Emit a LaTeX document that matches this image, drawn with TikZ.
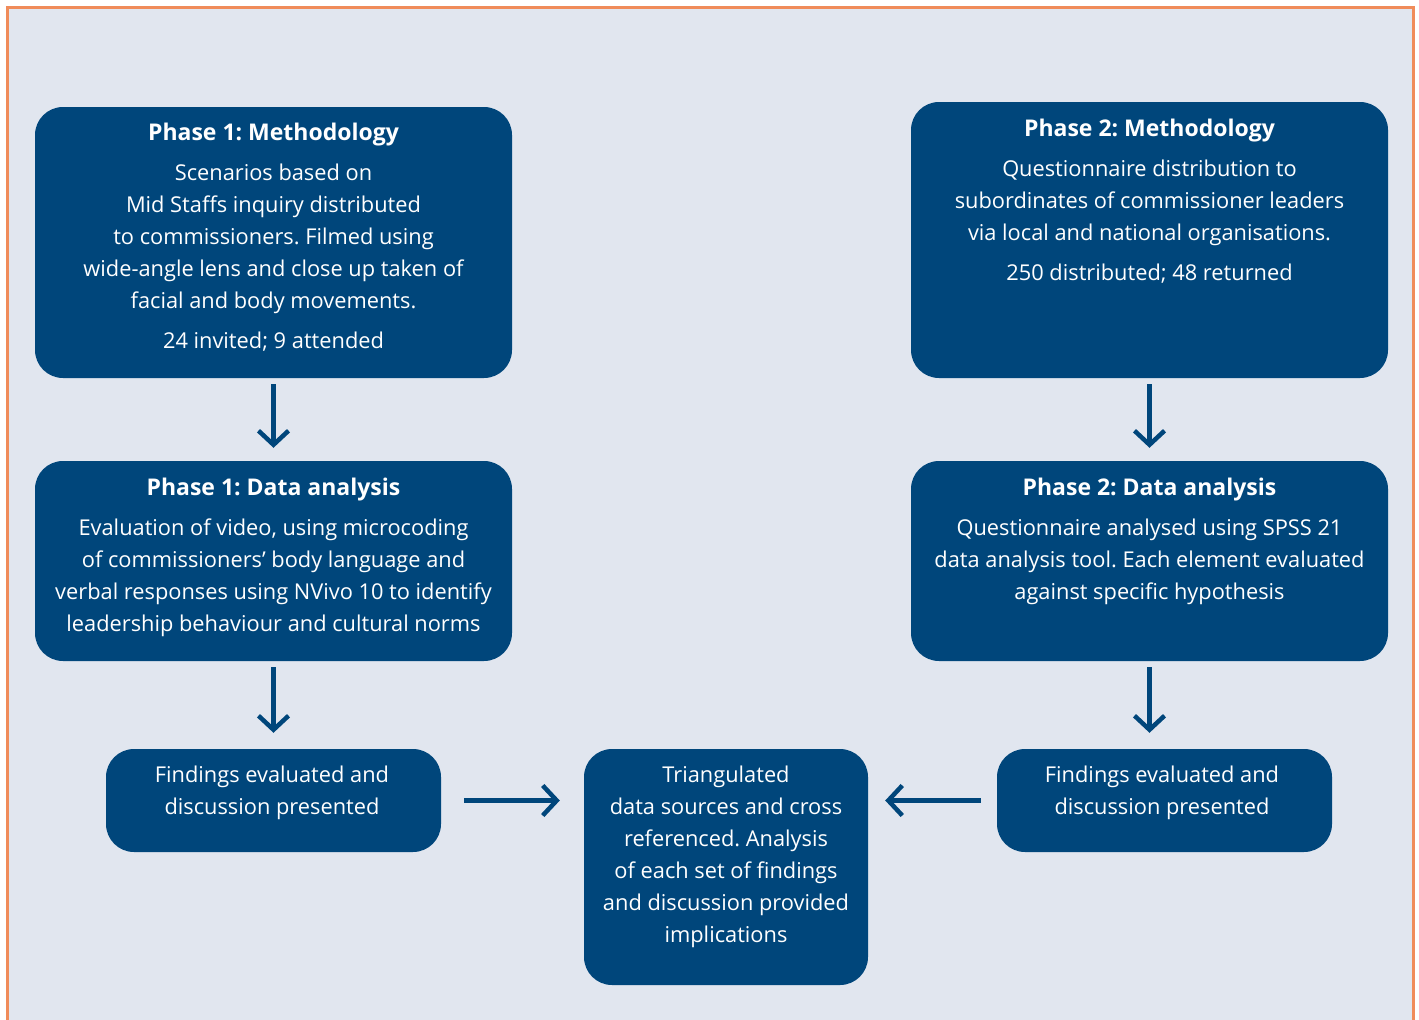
\documentclass[tikz,border=0pt]{standalone}
\usepackage{fontspec}
\setmainfont{Open Sans}
\usetikzlibrary{arrows.meta}
\definecolor{bgfill}{HTML}{E1E6EF}
\definecolor{boxblue}{HTML}{00467B}
\definecolor{edgeorange}{HTML}{F08C5A}
\frenchspacing
\newcommand{\ttl}[1]{{\fontsize{23}{32}\selectfont\bfseries #1}}
\tikzset{
  box/.style={fill=boxblue, rounded corners=28pt, inner sep=0pt},
  txt/.style={text=white, align=center, font=\fontsize{21.8}{32}\selectfont, anchor=north, inner sep=0pt},
  flow/.style={draw=boxblue, line width=4.5pt, -{Straight Barb[length=14pt,width=30pt]}}
}
\begin{document}
\begin{tikzpicture}[x=1pt,y=-1pt]
\useasboundingbox (0,0) rectangle (1419,1020);
\fill[bgfill] (8,8) rectangle (1413,1020);
\draw[draw=edgeorange, line width=2.2pt] (7.5,1021) -- (7.5,7.5) -- (1413.5,7.5) -- (1413.5,1021);
% boxes
\path[box] (35,107) rectangle (512,378);
\node (p1m) at (273.5,242.5) [minimum width=477pt, minimum height=271pt] {};
\path[box] (911,102) rectangle (1388,378);
\node (p2m) at (1149.5,240) [minimum width=477pt, minimum height=276pt] {};
\path[box] (35,461) rectangle (512,661);
\node (p1d) at (273.5,561) [minimum width=477pt, minimum height=200pt] {};
\path[box] (911,461) rectangle (1388,661);
\node (p2d) at (1149.5,561) [minimum width=477pt, minimum height=200pt] {};
\path[box] (106,749) rectangle (441,852);
\node (f1) at (273.5,800.5) [minimum width=335pt, minimum height=103pt] {};
\path[box] (997,749) rectangle (1332,852);
\node (f2) at (1164.5,800.5) [minimum width=335pt, minimum height=103pt] {};
\path[box] (584,749) rectangle (868,985);
\node (tri) at (726,867) [minimum width=284pt, minimum height=236pt] {};
% texts
\node[txt] (t1) at (273.5,123) {\ttl{Phase 1: Methodology}\\[8pt]
Scenarios based on\\ Mid Staffs inquiry distributed\\ to commissioners. Filmed using\\
wide-angle lens and close up taken of\\ facial and body movements.\\[8pt] 24 invited; 9 attended};
\node[txt] (t2) at (1149.5,119) {\ttl{Phase 2: Methodology}\\[8pt]
Questionnaire distribution to\\ subordinates of commissioner leaders\\ via local and national organisations.\\[8pt]
250 distributed; 48 returned};
\node[txt] (t3) at (273.5,478) {\ttl{Phase 1: Data analysis}\\[8pt]
Evaluation of video, using microcoding\\ of commissioners’ body language and\\
verbal responses using NVivo 10 to identify\\ leadership behaviour and cultural norms};
\node[txt] (t4) at (1149.5,478) {\ttl{Phase 2: Data analysis}\\[8pt]
Questionnaire analysed using SPSS 21\\ data analysis tool. Each element evaluated\\ against specific hypothesis};
\node[txt] (t5) at (272,766) {Findings evaluated and\\ discussion presented};
\node[txt] (t6) at (1162,766) {Findings evaluated and\\ discussion presented};
\node[txt] (t7) at (726,766) {Triangulated\\ data sources and cross\\ referenced. Analysis\\ of each set of findings\\ and discussion provided\\ implications};
% arrows
\draw[flow] ([yshift=-6pt]p1m.south) -- ([yshift=13pt]p1d.north);
\draw[flow] ([yshift=-6pt]p2m.south) -- ([yshift=13pt]p2d.north);
\draw[flow] ([yshift=-6pt]p1d.south) -- ([yshift=16pt]f1.north);
\draw[flow] ([yshift=-6pt]p2d.south) -- ([yshift=16pt]f2.north -| p2d.south);
\draw[flow] ([xshift=23pt]f1.east) -- ([xshift=-24pt]f1.east -| tri.west);
\draw[flow] ([xshift=-16pt]f2.west) -- ([xshift=17pt]f2.west -| tri.east);
\end{tikzpicture}
\end{document}
